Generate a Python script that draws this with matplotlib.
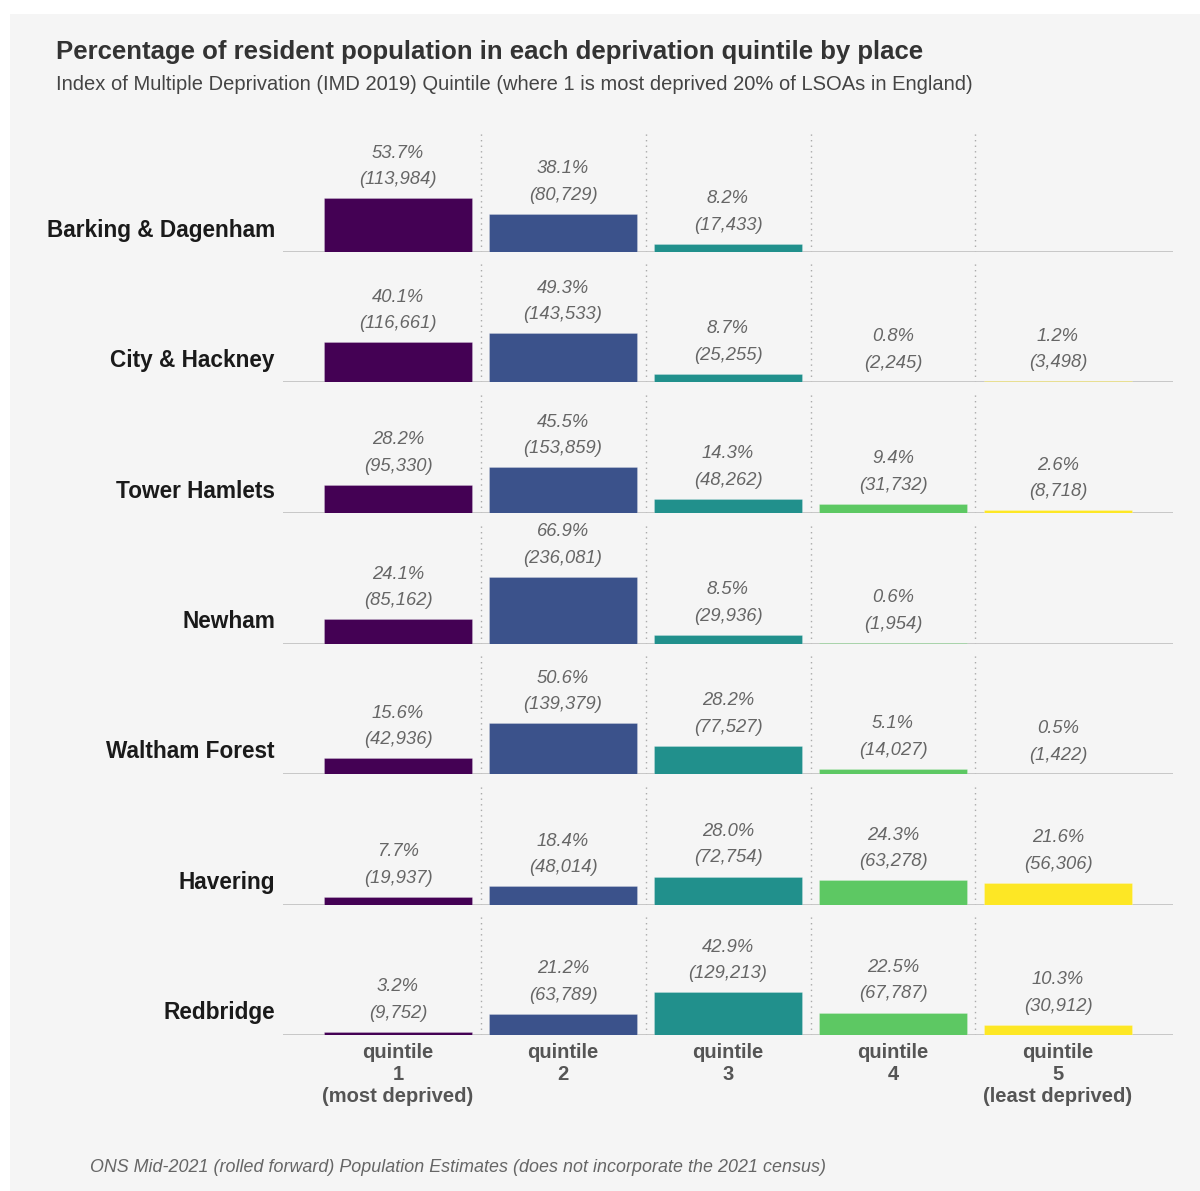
import matplotlib.pyplot as plt
from matplotlib.patches import Rectangle

places = ["Barking & Dagenham", "City & Hackney", "Tower Hamlets", "Newham",
          "Waltham Forest", "Havering", "Redbridge"]
quintile_labels = ["quintile\n1\n(most deprived)", "quintile\n2", "quintile\n3",
                   "quintile\n4", "quintile\n5\n(least deprived)"]
colours = ["#440154", "#3b528b", "#21908c", "#5dc863", "#fde725"]

# None = no residents in that quintile
pct = [
    [53.7, 38.1, 8.2, None, None],
    [40.1, 49.3, 8.7, 0.8, 1.2],
    [28.2, 45.5, 14.3, 9.4, 2.6],
    [24.1, 66.9, 8.5, 0.6, None],
    [15.6, 50.6, 28.2, 5.1, 0.5],
    [7.7, 18.4, 28.0, 24.3, 21.6],
    [3.2, 21.2, 42.9, 22.5, 10.3],
]
pop = [
    ["113,984", "80,729", "17,433", None, None],
    ["116,661", "143,533", "25,255", "2,245", "3,498"],
    ["95,330", "153,859", "48,262", "31,732", "8,718"],
    ["85,162", "236,081", "29,936", "1,954", None],
    ["42,936", "139,379", "77,527", "14,027", "1,422"],
    ["19,937", "48,014", "72,754", "63,278", "56,306"],
    ["9,752", "63,789", "129,213", "67,787", "30,912"],
]

plt.rcParams['font.family'] = ['Liberation Sans', 'DejaVu Sans']

W, H = 1200, 1191
fig = plt.figure(figsize=(W / 100, H / 100), dpi=100, facecolor="white")
fig.patches.append(Rectangle((10 / W, 0), 1, 1 - 14 / H, transform=fig.transFigure,
                             facecolor="#f5f5f5", edgecolor="none", zorder=-10))

fig.text(56 / W, 1 - 52 / H, "Percentage of resident population in each deprivation quintile by place",
         fontsize=18.5, fontweight="bold", color="#333333", va="center")
fig.text(56 / W, 1 - 85 / H,
         "Index of Multiple Deprivation (IMD 2019) Quintile (where 1 is most deprived 20% of LSOAs in England)",
         fontsize=14.5, color="#444444", va="center")
fig.text(90 / W, 1 - 1167 / H,
         "ONS Mid-2021 (rolled forward) Population Estimates (does not incorporate the 2021 census)",
         fontsize=12.9, color="#666666", style="italic", va="center")

x_left, x_right = 283, 1173
panel_h = 120
first_base = 252
row_step = 130.5
xs = list(range(5))
half = 115 / 165

for r, place in enumerate(places):
    base = first_base + r * row_step
    ax = fig.add_axes([x_left / W, 1 - base / H, (x_right - x_left) / W, panel_h / H])
    ax.set_facecolor("none")
    ax.set_xlim(-half, 4 + half)
    ax.set_ylim(0, panel_h)
    for s in ax.spines.values():
        s.set_visible(False)
    ax.set_yticks([])
    for sep in [0.5, 1.5, 2.5, 3.5]:
        ax.axvline(sep, color="#aaaaaa", lw=1, ls=(0, (1, 3)), zorder=0)
    ax.axhline(0, color="#c4c4c4", lw=1.3, zorder=1)
    for i in xs:
        v = pct[r][i]
        if v is None:
            continue
        ax.bar(i, v, width=0.9, color=colours[i], edgecolor=(1, 1, 1, 0.3),
               lw=0.5, zorder=2)
        ax.annotate(f"({pop[r][i]})", (i, v), xytext=(0, 18.5), textcoords="offset pixels",
                    ha="center", va="center", fontsize=13.2, style="italic",
                    color="#666666", annotation_clip=False)
        ax.annotate(f"{v:.1f}%", (i, v), xytext=(0, 45), textcoords="offset pixels",
                    ha="center", va="center", fontsize=13.2, style="italic",
                    color="#666666", annotation_clip=False)
    fig.text(275 / W, 1 - (base - 22) / H, place, ha="right", va="center",
             fontsize=16.3, fontweight="bold", color="#1a1a1a")
    if r == len(places) - 1:
        ax.set_xticks(xs)
        ax.set_xticklabels(quintile_labels, fontsize=14.5, fontweight="bold",
                           color="#555555", linespacing=1.18, va="top")
        ax.tick_params(axis="x", length=0, pad=6)
    else:
        ax.set_xticks([])

fig.savefig("out.png", dpi=100, facecolor="white")
